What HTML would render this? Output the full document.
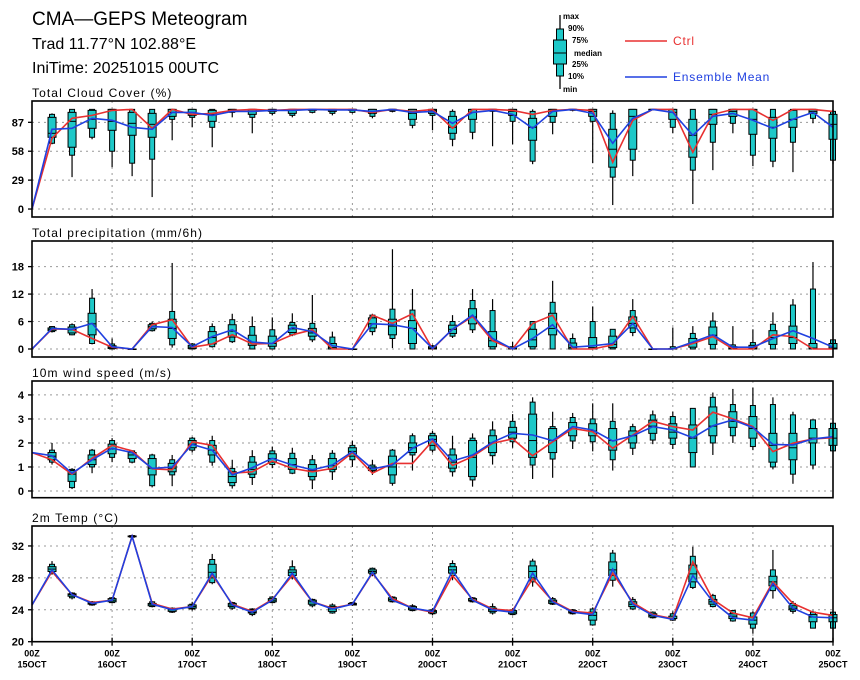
<!DOCTYPE html>
<html><head><meta charset="utf-8"><style>
body{margin:0;background:#fff;}
svg{display:block;font-family:"Liberation Sans",sans-serif;}
</style></head><body>
<svg id="chart" width="860" height="680" xmlns="http://www.w3.org/2000/svg">
<rect width="860" height="680" fill="#fff"/>
<text x="32" y="25" font-size="19">CMA—GEPS Meteogram</text>
<text x="32" y="49" font-size="16">Trad 11.77°N 102.88°E</text>
<text x="32" y="73" font-size="16">IniTime: 20251015 00UTC</text>
<g>
  <line x1="560" y1="15" x2="560" y2="89" stroke="#000" stroke-width="1.3"/>
  <rect x="556.5" y="29" width="7" height="47" fill="#1ec8c8" stroke="#000"/>
  <rect x="553.5" y="40" width="13" height="24" fill="#1ec8c8" stroke="#000"/>
  <line x1="553.5" y1="53" x2="566.5" y2="53" stroke="#000"/>
  <g font-size="8" font-weight="bold">
    <text x="563" y="19">max</text><text x="568" y="31">90%</text><text x="572" y="43">75%</text>
    <text x="574" y="56">median</text><text x="572" y="67">25%</text><text x="568" y="79">10%</text><text x="563" y="92">min</text>
  </g>
  <line x1="625" y1="41" x2="667" y2="41" stroke="#e83030" stroke-width="1.5"/>
  <text x="673" y="45" font-size="12" letter-spacing="0.8" fill="#e83030">Ctrl</text>
  <line x1="625" y1="77" x2="667" y2="77" stroke="#2040e0" stroke-width="1.5"/>
  <text x="673" y="81" font-size="12" letter-spacing="0.8" fill="#2040e0">Ensemble Mean</text>
</g>
</svg>
<script>
// ---------- data ----------
const dayLabels=["15OCT","16OCT","17OCT","18OCT","19OCT","20OCT","21OCT","22OCT","23OCT","24OCT","25OCT"];
const cloudTicks=[0,29,58,87];
const cloudCtrl=[0,71,91,94,99,100,81,100,95,96,99,100,99,100,100,100,100,97,100,98,100,81,100,100,99,95,99,100,99,47,89,100,100,57,95,100,100,89,100,100,98];
const cloudMean=[0,80,81,91,89,82,80,97,97,94,98,98,99,99,100,99.5,99.5,98,100,97,98,86,97,99,95,81,98,100,96,66,91,100,97,74,93,96,89,81,90,97,82];
const cloudBox=[null,[65,66,72,76,92,95,96],[32,54,62,88,97,100,100],[70,72,81,90,99,100,100],[42,58,79,88,100,100,100],[33,46,74,86,97,100,100],[12,50,72,85,96,100,100],[69,90,93,97,100,100,100],[82,92,94,97,100,100,100],[62,82,88,95,99,100,100],[92,97,98,99,100,100,100],[76,92,95,98,100,100,100],[94,96,98,99,100,100,100],[92,94,96,99,100,100,100],[96,97,99,100,100,100,100],[94,96,98,99,100,100,100],[96,97,99,100,100,100,100],[91,93,96,98,100,100,100],[97,98,99,100,100,100,100],[81,84,90,96,100,100,100],[79,94,96,99,100,100,100],[63,70,76,82,93,98,100],[70,77,90,97,100,100,100],[63,98,99,100,100,100,100],[65,88,94,98,100,100,100],[45,48,69,82,91,98,100],[75,87,93,98,100,100,100],[98,99,100,100,100,100,100],[46,88,93,98,100,100,100],[4,32,42,60,80,96,99],[33,49,60,93,100,100,100],[99,100,100,100,100,100,100],[76,82,90,97,100,100,100],[5,39,52,74,90,100,100],[39,67,85,95,100,100,100],[76,86,93,98,100,100,100],[43,54,75,90,100,100,100],[42,48,71,82,92,100,100],[37,67,82,90,99,100,100],[86,91,96,98,100,100,100],[45,49,70,85,95,98,100]];
const precipTicks=[0,6,12,18];
const precipCtrl=[0,4.4,4.3,2.3,0.4,0,5.3,6.4,0.4,1.1,3.1,1.1,1.2,3.1,4.2,0,0,7.4,5.6,7.7,0,4.3,7.1,1.8,0,5.6,7.4,0,0,0.9,7.1,0,0,1.2,2.7,0,0,3.1,2.7,0,0];
const precipMean=[0,4.5,4.3,5.6,0.5,0,4.9,4.7,0.5,2.7,4.2,1.5,1.2,4.7,3.8,0.7,0,5.5,5.3,4.5,0.1,4.3,7.4,2.3,0,2.3,5.3,0.4,0.7,1.2,5.6,0,0,1.5,3.1,0.4,0.4,2.3,4.0,2.3,0.4];
const precipBox=[null,[3.6,3.8,4.0,4.3,4.6,4.9,5.0],[3.0,3.1,3.5,4.2,4.8,5.3,5.6],[1.0,1.2,3.1,5.5,7.8,11.1,13.1],[0,0,0.1,0.3,0.7,1.1,2.3],[0,0,0,0,0,0,0],[3.8,4.0,4.4,4.9,5.3,5.6,6.0],[0.3,0.9,2.3,4.5,6.5,8.2,18.8],[0,0,0.1,0.4,0.8,1.1,1.3],[0.3,0.5,1.1,2.5,3.8,4.9,5.6],[1.3,1.6,2.6,3.9,5.3,6.4,7.7],[0,0,0.8,1.5,3.0,4.9,7.1],[0,0,0.6,1.2,2.8,4.2,6.9],[2.8,3.1,3.6,4.4,5.2,5.8,7.8],[1.5,2.0,2.8,3.5,4.5,5.6,11.8],[0,0,0,0.3,1.2,2.6,3.8],[0,0,0,0,0,0,0],[3.0,3.8,4.6,5.5,6.8,7.4,7.7],[0.2,2.3,3.1,5.0,6.5,8.7,21.8],[0,0,1.2,4.5,6.2,8.5,13.1],[0,0,0,0.2,0.5,0.7,0.9],[2.4,2.8,3.4,4.3,5.2,6.0,7.4],[3.5,4.2,5.5,7.0,8.8,10.6,13.1],[0,0,0.5,1.8,3.8,8.4,10.9],[0,0,0,0,0.2,0.5,1.6],[0,0,0.5,2.0,4.3,6.0,6.0],[0,0,3.1,4.5,7.8,10.2,14.9],[0,0,0,0.3,1.3,2.3,3.4],[0,0,0,0.3,2.5,6.0,9.3],[0,0,0.3,1.0,2.8,4.3,4.3],[2.8,3.6,4.6,5.6,7.0,8.4,10.9],[0,0,0,0,0,0,0],[0,0,0,0,0.1,0.5,4.7],[0,0,0.4,1.3,2.3,3.4,5.0],[0,0,1.0,3.0,4.8,6.1,8.0],[0,0,0,0.1,0.5,0.9,5.0],[0,0,0,0.2,0.8,1.4,4.3],[0,0,1.0,2.5,4.0,5.4,8.0],[0,0,1.2,2.5,5.0,9.6,10.9],[0,0,0,0.2,1.2,13.1,19.0],[0,0,0,0.2,1.2,2.0,2.0]];
const windTicks=[0,1,2,3,4];
const windCtrl=[1.6,1.3,0.7,1.36,1.9,1.67,0.92,0.88,2.05,1.9,0.74,0.8,1.25,0.94,0.8,0.94,1.6,0.74,1.15,1.15,2.08,1.06,1.43,1.99,2.17,1.47,2.05,2.6,2.47,1.78,2.33,2.9,2.68,2.54,3.28,3.0,2.68,1.64,1.99,2.17,2.22];
const windMean=[1.6,1.47,0.74,1.3,1.78,1.6,0.94,1.0,1.94,1.7,0.67,0.97,1.36,1.08,0.88,1.08,1.64,0.92,1.08,1.78,2.17,1.25,1.5,2.03,2.4,2.33,2.1,2.68,2.54,2.08,2.3,2.68,2.54,2.22,2.72,2.96,2.64,1.94,1.92,2.17,2.26];
const windBox=[null,[1.1,1.2,1.3,1.45,1.6,1.7,2.0],[0.08,0.14,0.4,0.7,0.85,0.9,0.95],[0.74,1.0,1.1,1.3,1.5,1.7,1.75],[1.2,1.4,1.55,1.75,1.95,2.1,2.2],[1.15,1.2,1.35,1.5,1.6,1.67,1.7],[0.15,0.22,0.67,0.95,1.35,1.5,1.55],[0.2,0.67,0.8,0.95,1.15,1.3,1.5],[1.6,1.7,1.8,1.95,2.1,2.2,2.25],[1.05,1.2,1.5,1.7,1.9,2.1,2.3],[0.1,0.22,0.35,0.6,0.8,0.94,1.3],[0.25,0.56,0.7,0.9,1.2,1.43,1.7],[0.95,1.1,1.2,1.35,1.55,1.67,1.85],[0.7,0.74,0.9,1.1,1.35,1.57,1.8],[0.08,0.46,0.6,0.85,1.1,1.3,1.5],[0.46,0.8,0.9,1.05,1.35,1.57,1.7],[1.0,1.3,1.45,1.65,1.8,1.9,2.1],[0.67,0.83,0.85,0.92,1.0,1.08,1.3],[0.22,0.32,0.67,1.0,1.45,1.7,1.75],[0.85,1.5,1.6,1.8,2.0,2.3,2.4],[1.6,1.7,1.9,2.15,2.3,2.4,2.5],[0.6,0.8,0.95,1.2,1.5,1.75,2.3],[0.18,0.46,0.6,1.4,2.1,2.2,2.4],[1.1,1.47,1.6,2.0,2.3,2.54,2.9],[1.8,2.05,2.2,2.45,2.65,2.9,3.2],[0.5,1.08,1.4,2.1,3.2,3.7,3.9],[0.55,1.33,1.6,2.1,2.6,2.68,3.3],[1.75,2.08,2.3,2.6,2.85,3.06,3.25],[1.65,2.05,2.3,2.5,2.8,3.0,3.65],[0.85,1.3,1.7,2.1,2.6,2.9,3.65],[1.5,1.78,2.0,2.3,2.5,2.68,2.8],[1.95,2.12,2.4,2.7,2.95,3.17,3.35],[1.75,1.94,2.2,2.45,2.8,3.1,3.3],[1.0,1.0,1.6,2.2,2.75,3.44,3.44],[1.5,2.0,2.3,2.7,3.5,3.9,4.1],[2.0,2.3,2.65,2.9,3.3,3.6,4.25],[1.7,1.85,2.2,2.6,3.1,3.56,4.3],[0.9,1.0,1.2,1.9,2.4,3.6,3.9],[0.3,0.7,1.3,1.8,2.4,3.17,3.3],[0.9,1.08,2.0,2.2,2.6,2.96,2.96],[1.67,1.67,1.9,2.2,2.6,2.82,2.82]];
const tempTicks=[20,24,28,32];
const tempCtrl=[24.6,28.8,25.9,24.9,25.2,33.2,24.8,24.1,24.4,28.4,24.7,23.8,25.3,28.3,25.0,24.2,24.7,28.6,25.4,24.2,23.7,28.3,25.3,24.1,23.9,27.9,25.1,23.8,23.6,28.6,24.9,23.4,22.9,30.0,25.3,23.6,23.0,27.5,24.8,23.7,23.3];
const tempMean=[24.6,29.0,25.9,24.8,25.2,33.2,24.7,24.0,24.4,28.6,24.6,23.7,25.2,28.6,25.0,24.1,24.7,28.7,25.2,24.2,23.8,28.9,25.2,24.0,23.7,28.6,25.0,23.7,23.4,29.1,24.7,23.3,22.8,28.3,25.0,23.0,22.7,27.3,24.2,23.1,23.0];
const tempBox=[null,[28.4,28.6,28.8,29.1,29.4,29.7,30.1],[25.3,25.5,25.7,25.9,26.0,26.1,26.2],[24.5,24.6,24.7,24.8,24.9,25.0,25.1],[24.8,24.9,25.0,25.2,25.4,25.5,25.6],[33.0,33.1,33.15,33.2,33.25,33.3,33.4],[24.3,24.4,24.5,24.7,24.8,25.0,25.1],[23.6,23.7,23.8,24.0,24.1,24.2,24.3],[23.9,24.1,24.2,24.4,24.6,24.7,25.0],[27.2,27.4,28.0,28.7,29.7,30.3,31.0],[24.0,24.2,24.4,24.6,24.8,24.9,25.0],[23.2,23.4,23.6,23.7,24.0,24.1,24.2],[24.8,24.9,25.0,25.2,25.4,25.6,25.7],[27.8,28.0,28.3,28.7,29.0,29.4,30.2],[24.3,24.5,24.7,25.0,25.2,25.3,25.4],[23.5,23.6,23.8,24.1,24.4,24.6,24.8],[24.5,24.6,24.6,24.7,24.8,24.9,25.0],[28.2,28.4,28.6,28.8,29.0,29.2,29.3],[24.9,25.0,25.1,25.3,25.5,25.6,25.7],[23.8,23.9,24.0,24.2,24.4,24.5,24.7],[23.3,23.5,23.6,23.8,23.9,24.0,24.2],[27.7,28.3,28.6,29.0,29.4,29.8,30.2],[24.9,25.0,25.1,25.2,25.4,25.5,25.6],[23.4,23.6,23.8,24.0,24.2,24.4,24.8],[23.3,23.4,23.5,23.7,23.9,24.0,24.2],[26.9,27.5,28.0,28.8,29.5,30.1,30.4],[24.6,24.7,24.8,25.0,25.2,25.4,25.6],[23.4,23.5,23.6,23.7,23.9,24.0,24.1],[22.0,22.1,22.7,23.3,23.7,24.1,24.3],[26.9,27.7,28.3,29.0,30.0,31.1,31.5],[24.0,24.1,24.4,24.7,25.0,25.3,25.6],[22.9,23.0,23.1,23.3,23.5,23.7,23.8],[22.6,22.7,22.9,22.9,23.2,23.5,23.8],[26.6,26.8,27.5,28.5,29.6,30.7,31.9],[24.3,24.4,24.7,25.0,25.3,25.8,26.0],[22.5,22.6,22.9,23.2,23.5,23.9,24.0],[21.0,21.7,22.2,22.7,23.1,23.6,23.8],[25.4,26.4,27.0,27.5,28.2,29.0,31.5],[23.5,23.8,24.0,24.2,24.5,24.8,25.1],[21.7,21.7,22.5,23.1,23.4,23.7,23.9],[21.7,21.7,22.5,23.0,23.4,23.7,23.9]];

// ---------- drawing ----------
const svg=document.getElementById('chart');
const NS='http://www.w3.org/2000/svg';
const X0=32,X1=833,NSTEP=40;
function xs(k){return X0+(X1-X0)*k/NSTEP;}
function mk(tag,attrs,parent){const e=document.createElementNS(NS,tag);for(const a in attrs)e.setAttribute(a,attrs[a]);(parent||svg).appendChild(e);return e;}
function panel(name,title,top,bot,vmin,vmax,ticks,box,mean,ctrl,isLast){
  const g=mk('g',{});
  
  
  const ys=v=>bot-(v-vmin)/(vmax-vmin)*(bot-top);
  const t=mk('text',{x:32,y:top-4,'font-size':12,'letter-spacing':1.1},g);t.textContent=title;
  
  
  for(let d=1;d<10;d++){const l=mk('line',{x1:xs(d*4),x2:xs(d*4),y1:top,y2:bot,stroke:'#999','stroke-dasharray':'2,4','stroke-width':1},g);
    
    }
  ticks.forEach(v=>{const y=ys(v);
    if(Math.abs(y-bot)>2){const gl=mk('line',{x1:X0,x2:X1,y1:y,y2:y,stroke:'#999','stroke-dasharray':'2,4','stroke-width':1},g);
      
      }
    mk('line',{x1:X0-4,x2:X0,y1:y,y2:y,stroke:'#000','stroke-width':1.3},g);
    const tl=mk('text',{x:X0-8,y:y+4,'font-size':11,'font-weight':'bold','text-anchor':'end'},g);tl.textContent=v;
    
    });
  box.forEach((b,k)=>{if(!b)return;const x=xs(k);
    const bg=mk('g',{},g);
    
    
    mk('line',{x1:x,x2:x,y1:ys(b[0]),y2:ys(b[6]),stroke:'#000','stroke-width':1.2},bg);
    mk('rect',{x:x-2.5,y:ys(b[5]),width:5,height:Math.max(ys(b[1])-ys(b[5]),0.5),fill:'#1ec8c8',stroke:'#000','stroke-width':1},bg);
    mk('rect',{x:x-4,y:ys(b[4]),width:8,height:Math.max(ys(b[2])-ys(b[4]),0.5),fill:'#1ec8c8',stroke:'#000','stroke-width':1},bg);
    mk('line',{x1:x-4,x2:x+4,y1:ys(b[3]),y2:ys(b[3]),stroke:'#000','stroke-width':1},bg);});
  const path=arr=>arr.map((v,k)=>(k?'L':'M')+xs(k).toFixed(1)+','+ys(v).toFixed(1)).join('');
  const pc=mk('path',{d:path(ctrl),fill:'none',stroke:'#e83030','stroke-width':1.6},g);
  
  
  const pm=mk('path',{d:path(mean),fill:'none',stroke:'#2040e0','stroke-width':1.6},g);
  
  
  const fr=mk('rect',{x:X0,y:top,width:X1-X0,height:bot-top,fill:'none',stroke:'#000','stroke-width':1.6},g);
  
  
  if(isLast){dayLabels.forEach((lab,d)=>{const x=xs(d*4);
    mk('line',{x1:x,x2:x,y1:bot-4,y2:bot+4,stroke:'#000','stroke-width':1.3},g);
    const t1=mk('text',{x:x,y:bot+15,'font-size':9,'font-weight':'bold','text-anchor':'middle'},g);t1.textContent='00Z';
    
    
    const t2=mk('text',{x:x,y:bot+26,'font-size':9,'font-weight':'bold','text-anchor':'middle'},g);t2.textContent=lab;
    
    });}
}
panel('cloud','Total Cloud Cover (%)',101,217,-8,108.4,cloudTicks,cloudBox,cloudMean,cloudCtrl,false);
panel('precip','Total precipitation (mm/6h)',241,357,-1.75,23.6,precipTicks,precipBox,precipMean,precipCtrl,false);
panel('wind','10m wind speed (m/s)',381,497.7,-0.28,4.58,windTicks,windBox,windMean,windCtrl,false);
panel('temp','2m Temp (°C)',526,641.7,20,34.5,tempTicks,tempBox,tempMean,tempCtrl,true);
</script>
</body></html>
